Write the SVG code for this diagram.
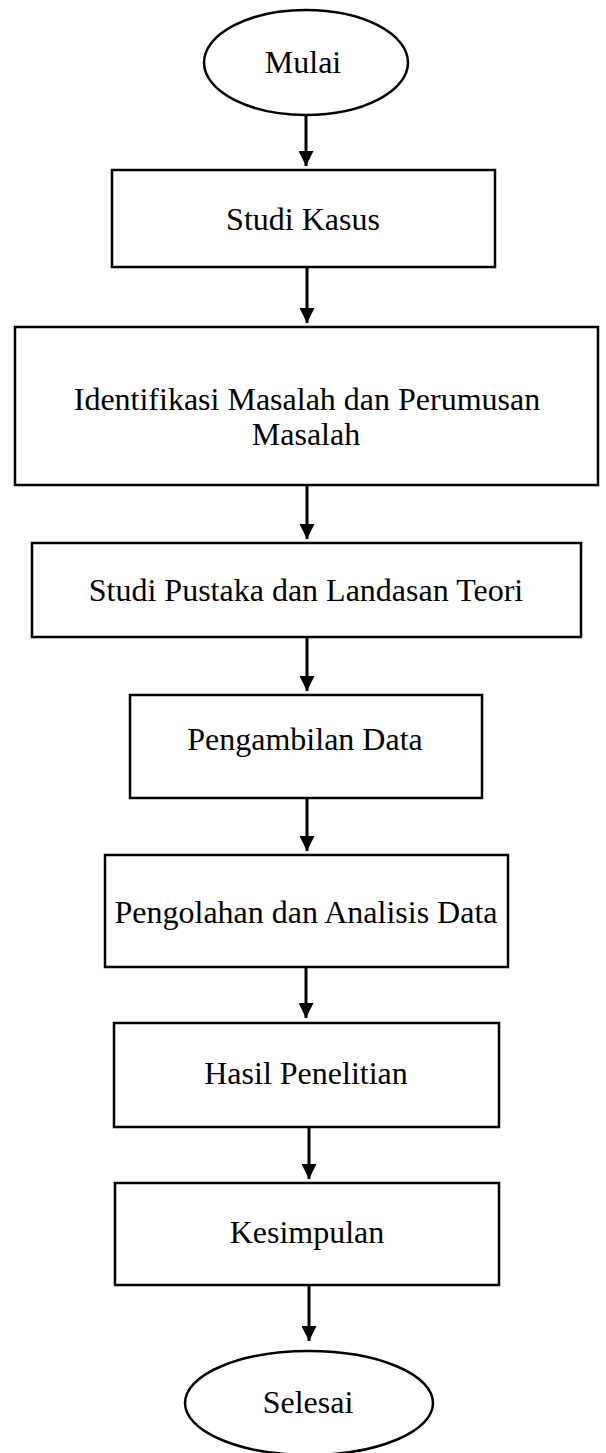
<svg xmlns="http://www.w3.org/2000/svg" width="606" height="1453" viewBox="0 0 606 1453">
<style>
.n{fill:#fff;stroke:#000;stroke-width:2.5}
.t{font-family:"Liberation Serif","Times New Roman",serif;font-size:32px;fill:#000;text-anchor:middle}
.c{stroke:#000;stroke-width:3;fill:none}
</style>
<defs>
<marker id="ah" viewBox="0 0 10 10" refX="10" refY="5" markerWidth="5" markerHeight="5" markerUnits="strokeWidth" orient="auto">
<path d="M0,0 L10,5 L0,10 z" fill="#000"/>
</marker>
</defs>
<rect width="606" height="1453" fill="#fff"/>
<g id="connectors">
<line class="c" x1="306" y1="115" x2="306" y2="166" marker-end="url(#ah)"/>
<line class="c" x1="307" y1="267" x2="307" y2="323" marker-end="url(#ah)"/>
<line class="c" x1="307" y1="485" x2="307" y2="539" marker-end="url(#ah)"/>
<line class="c" x1="307" y1="637" x2="307" y2="691" marker-end="url(#ah)"/>
<line class="c" x1="307" y1="798" x2="307" y2="851" marker-end="url(#ah)"/>
<line class="c" x1="306" y1="967" x2="306" y2="1018" marker-end="url(#ah)"/>
<line class="c" x1="309" y1="1127" x2="309" y2="1179" marker-end="url(#ah)"/>
<line class="c" x1="309" y1="1285" x2="309" y2="1341" marker-end="url(#ah)"/>
</g>
<g id="mulai">
<ellipse class="n" cx="306" cy="62.5" rx="102" ry="52.5"/>
<text class="t" x="303" y="73">Mulai</text>
</g>
<g id="studi-kasus">
<rect class="n" x="112" y="170" width="383" height="97"/>
<text class="t" x="303" y="230">Studi Kasus</text>
</g>
<g id="identifikasi">
<rect class="n" x="15" y="327" width="583" height="158"/>
<text class="t" x="307" y="410">Identifikasi Masalah dan Perumusan</text>
<text class="t" x="306" y="445">Masalah</text>
</g>
<g id="studi-pustaka">
<rect class="n" x="32" y="543" width="549" height="94"/>
<text class="t" x="306" y="601">Studi Pustaka dan Landasan Teori</text>
</g>
<g id="pengambilan">
<rect class="n" x="130" y="695" width="352" height="103"/>
<text class="t" x="305" y="750">Pengambilan Data</text>
</g>
<g id="pengolahan">
<rect class="n" x="105" y="855" width="403" height="112"/>
<text class="t" x="306" y="923">Pengolahan dan Analisis Data</text>
</g>
<g id="hasil">
<rect class="n" x="114" y="1023" width="385" height="104"/>
<text class="t" x="306" y="1084">Hasil Penelitian</text>
</g>
<g id="kesimpulan">
<rect class="n" x="115" y="1183" width="384" height="102"/>
<text class="t" x="307" y="1243">Kesimpulan</text>
</g>
<g id="selesai">
<ellipse class="n" cx="309" cy="1403" rx="124" ry="52"/>
<text class="t" x="308" y="1413">Selesai</text>
</g>
</svg>
